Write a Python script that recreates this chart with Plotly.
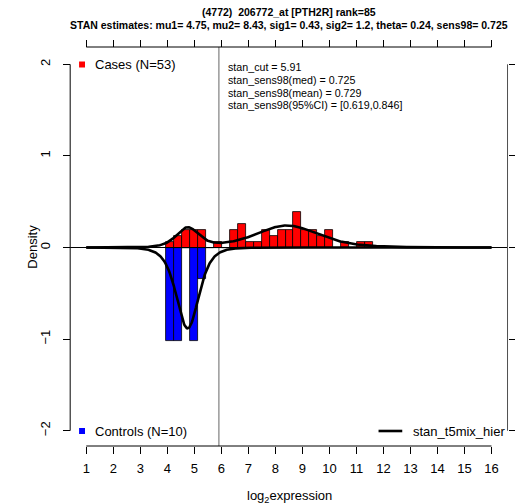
import numpy as np
import plotly.graph_objects as go

# ---- data -----------------------------------------------------------------
mu1, mu2 = 4.75, 8.43
sig1, sig2 = 0.43, 1.2
theta = 0.24
stan_cut = 5.91

bin_start = 3.95
bin_width = 0.295
n_cases = 53
n_controls = 10
case_counts = [1, 2, 3, 3, 3, 0, 1, 0, 3, 4, 1, 1, 3, 2, 3, 3, 6, 3, 3, 2, 3, 0, 1, 0, 1, 1]
control_counts = [3, 3, 0, 3, 1]

x_ticks = list(range(1, 17))
y_ticks = [-2, -1, 0, 1, 2]

stats_lines = [
    "stan_cut = 5.91",
    "stan_sens98(med) = 0.725",
    "stan_sens98(mean) = 0.729",
    "stan_sens98(95%CI) = [0.619,0.846]",
]
title1 = "(4772)\u00a0 206772_at [PTH2R] rank=85"
title2 = "STAN estimates: mu1= 4.75, mu2= 8.43, sig1= 0.43, sig2= 1.2, theta= 0.24, sens98= 0.725"

# ---- page geometry ---------------------------------------------------------
W, H = 515, 504
FONT = "Liberation Sans, Arial, Helvetica, sans-serif"


def px(x):
    return x / W


def py(y):
    return 1 - y / H


# axis ranges chosen so that the plotting frame fills the page
X_RANGE = [-2.194, 16.648]
Y_RANGE = [-2.800, 2.702]

FRAME_TOP = 47     # pixel row of the top axis
FRAME_BOTTOM = 446  # pixel row of the bottom axis


def t5_pdf(x, mu, sig):
    z = (x - mu) / sig
    return 0.379606689 * (1 + z * z / 5.0) ** -3 / sig


def centers(n):
    return [bin_start + bin_width * (i + 0.5) for i in range(n)]


case_density = [c / (n_cases * bin_width) for c in case_counts]
control_density = [-c / (n_controls * bin_width) for c in control_counts]

xs = np.linspace(1, 16, 751)
case_curve = theta * t5_pdf(xs, mu1, sig1) + (1 - theta) * t5_pdf(xs, mu2, sig2)
control_curve = -t5_pdf(xs, mu1, sig1)

fig = go.Figure()

fig.add_trace(go.Bar(
    x=centers(len(case_counts)), y=case_density, width=bin_width, base=0,
    marker=dict(color="#FF0000", line=dict(color="black", width=0.8)),
    showlegend=False, hoverinfo="skip",
))
fig.add_trace(go.Bar(
    x=centers(len(control_counts)), y=control_density, width=bin_width, base=0,
    marker=dict(color="#0000FF", line=dict(color="black", width=0.8)),
    showlegend=False, hoverinfo="skip",
))
fig.add_trace(go.Scatter(x=xs, y=case_curve, mode="lines",
                         line=dict(color="black", width=2.6),
                         showlegend=False, hoverinfo="skip"))
fig.add_trace(go.Scatter(x=xs, y=control_curve, mode="lines",
                         line=dict(color="black", width=2.6),
                         showlegend=False, hoverinfo="skip"))
# carrier for the secondary (top / right) axes
fig.add_trace(go.Scatter(x=[None], y=[None], xaxis="x2", yaxis="y2",
                         showlegend=False, hoverinfo="skip"))

shapes = []
# cut-off line
shapes.append(dict(type="line", xref="x", yref="paper", x0=stan_cut, x1=stan_cut,
                   y0=py(FRAME_BOTTOM), y1=py(FRAME_TOP),
                   line=dict(color="#666666", width=1), layer="below"))
# zero line
shapes.append(dict(type="line", xref="paper", yref="y", x0=px(71), x1=px(513.5),
                   y0=0, y1=0, line=dict(color="black", width=1)))
# axis lines (from first to last tick)
shapes.append(dict(type="line", xref="x", yref="paper", x0=x_ticks[0], x1=x_ticks[-1],
                   y0=py(FRAME_BOTTOM), y1=py(FRAME_BOTTOM),
                   line=dict(color="black", width=1)))
shapes.append(dict(type="line", xref="x", yref="paper", x0=x_ticks[0], x1=x_ticks[-1],
                   y0=py(FRAME_TOP), y1=py(FRAME_TOP),
                   line=dict(color="black", width=1)))
shapes.append(dict(type="line", xref="paper", yref="y", x0=px(71), x1=px(71),
                   y0=y_ticks[0], y1=y_ticks[-1], line=dict(color="black", width=1)))
shapes.append(dict(type="line", xref="paper", yref="y", x0=px(513.5), x1=px(513.5),
                   y0=y_ticks[0], y1=y_ticks[-1], line=dict(color="#505050", width=1)))
# legend keys
shapes.append(dict(type="rect", xref="paper", yref="paper", x0=px(80), x1=px(86),
                   y0=py(67.5), y1=py(61.5), fillcolor="#FF0000", line=dict(width=0)))
shapes.append(dict(type="rect", xref="paper", yref="paper", x0=px(80), x1=px(86),
                   y0=py(434), y1=py(428), fillcolor="#0000FF", line=dict(width=0)))
shapes.append(dict(type="line", xref="paper", yref="paper", x0=px(383), x1=px(407),
                   y0=py(431), y1=py(431), line=dict(color="black", width=2.6)))

ann = []


def text(x, y, s, size=13, xanchor="left", bold=False, angle=0):
    ann.append(dict(x=px(x), y=py(y), xref="paper", yref="paper", text=s,
                    showarrow=False, xanchor=xanchor, yanchor="middle",
                    textangle=angle,
                    font=dict(family=FONT, size=size, color="black",
                              weight="bold" if bold else "normal")))


text(292, 12, title1, size=10.5, xanchor="center", bold=True)
text(292, 25, title2, size=10.5, xanchor="center", bold=True)
for i, s in enumerate(stats_lines):
    text(229, 67.5 + 12.5 * i, s, size=10.7)
text(94, 64.5, "Cases (N=53)")
text(94, 431, "Controls (N=10)")
text(416, 431, "stan_t5mix_hier")
text(293, 496, "log<sub>2</sub>expression", xanchor="center")
text(32, 247, "Density", xanchor="center", angle=-90)

common = dict(showgrid=False, zeroline=False, showline=False,
              tickcolor="black", tickwidth=1, ticklen=7, ticks="outside",
              tickfont=dict(family=FONT, size=13, color="black"))

fig.update_layout(
    width=W, height=H,
    margin=dict(l=0, r=0, t=0, b=0),
    paper_bgcolor="white", plot_bgcolor="white",
    barmode="overlay", bargap=0,
    shapes=shapes, annotations=ann,
    xaxis=dict(domain=[0, 1], range=X_RANGE, anchor="free", position=py(FRAME_BOTTOM),
               tickvals=x_ticks, ticktext=[str(v) for v in x_ticks],
               ticklabelstandoff=3, **common),
    xaxis2=dict(domain=[0, 1], range=X_RANGE, overlaying="x", side="top",
                anchor="free", position=py(FRAME_TOP), tickvals=x_ticks,
                showticklabels=False, **common),
    yaxis=dict(domain=[0, 1], range=Y_RANGE, anchor="free", position=px(71),
               tickvals=y_ticks, tickangle=-90, ticklabelstandoff=8, **common),
    yaxis2=dict(domain=[0, 1], range=Y_RANGE, overlaying="y", side="right",
                anchor="free", position=px(513.5), tickvals=y_ticks,
                showticklabels=False, **common),
)

fig.write_html("out.html")
